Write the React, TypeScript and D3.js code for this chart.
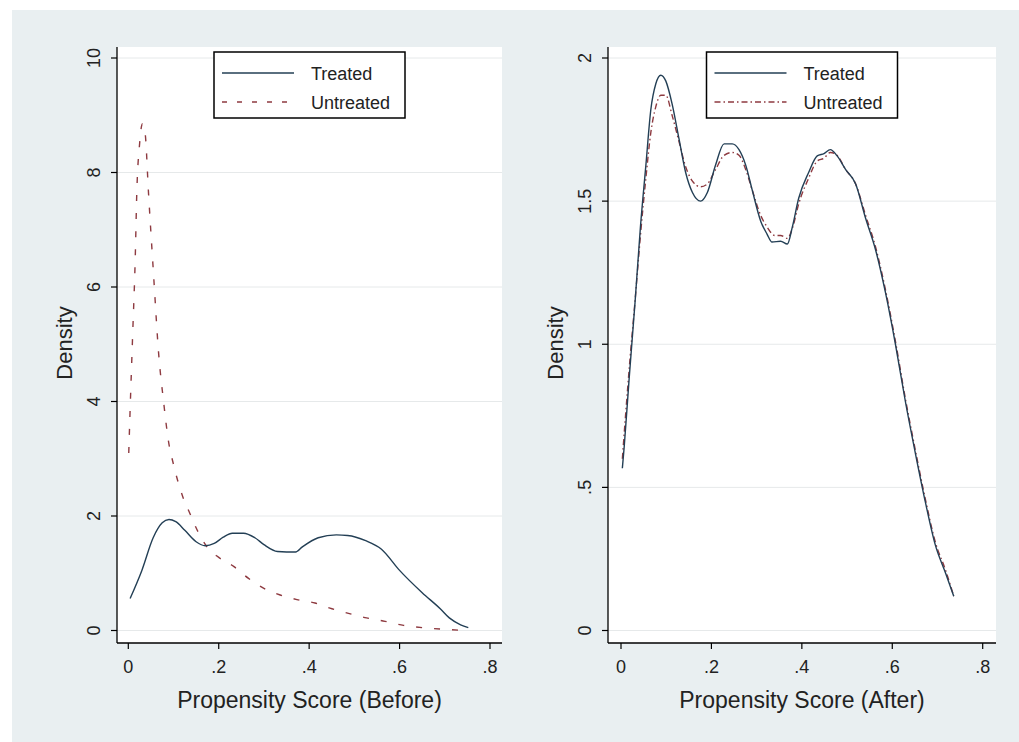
import React from "react";
import * as d3 from "d3";

// ---------- data ----------
const xTickValues = [0, 0.2, 0.4, 0.6, 0.8];
const xTickLabels = ["0", ".2", ".4", ".6", ".8"];

const beforeYTickValues = [0, 2, 4, 6, 8, 10];
const beforeYTickLabels = ["0", "2", "4", "6", "8", "10"];
const afterYTickValues = [0, 0.5, 1, 1.5, 2];
const afterYTickLabels = ["0", ".5", "1", "1.5", "2"];

const seriesNames = ["Treated", "Untreated"];

// Before matching
const beforeTreatedX = [0.004, 0.03, 0.055, 0.075, 0.09, 0.105, 0.125, 0.15, 0.17, 0.19, 0.21, 0.23, 0.255, 0.28, 0.30, 0.33, 0.37, 0.385, 0.42, 0.46, 0.485, 0.525, 0.56, 0.60, 0.65, 0.69, 0.71, 0.735, 0.752];
const beforeTreatedY = [0.56, 1.05, 1.62, 1.88, 1.94, 1.90, 1.75, 1.55, 1.48, 1.52, 1.63, 1.70, 1.70, 1.62, 1.50, 1.38, 1.37, 1.46, 1.62, 1.67, 1.66, 1.57, 1.42, 1.05, 0.66, 0.38, 0.22, 0.10, 0.05];

const beforeUntreatedX = [0.001, 0.004, 0.010, 0.015, 0.019, 0.025, 0.031, 0.037, 0.045, 0.056, 0.067, 0.078, 0.089, 0.100, 0.119, 0.137, 0.152, 0.174, 0.196, 0.233, 0.266, 0.299, 0.336, 0.373, 0.413, 0.446, 0.487, 0.527, 0.568, 0.609, 0.65, 0.69, 0.735];
const beforeUntreatedY = [3.1, 3.85, 5.25, 6.4, 7.7, 8.5, 8.85, 8.7, 7.6, 6.2, 4.85, 4.0, 3.3, 2.9, 2.37, 2.03, 1.76, 1.46, 1.30, 1.12, 0.91, 0.74, 0.62, 0.54, 0.48, 0.39, 0.30, 0.22, 0.16, 0.09, 0.05, 0.025, 0.005];

// After matching
const afterTreatedX = [0.003, 0.007, 0.018, 0.031, 0.043, 0.055, 0.066, 0.077, 0.088, 0.099, 0.113, 0.128, 0.143, 0.158, 0.176, 0.191, 0.209, 0.228, 0.246, 0.261, 0.276, 0.29, 0.309, 0.323, 0.334, 0.353, 0.368, 0.379, 0.393, 0.415, 0.434, 0.449, 0.463, 0.478, 0.497, 0.519, 0.541, 0.563, 0.585, 0.607, 0.629, 0.651, 0.673, 0.695, 0.718, 0.736];
const afterTreatedY = [0.567, 0.64, 0.88, 1.145, 1.41, 1.625, 1.82, 1.91, 1.94, 1.92, 1.84, 1.72, 1.60, 1.53, 1.50, 1.53, 1.625, 1.70, 1.70, 1.68, 1.625, 1.54, 1.43, 1.385, 1.357, 1.36, 1.35, 1.41, 1.51, 1.60, 1.658, 1.666, 1.68, 1.658, 1.61, 1.56, 1.44, 1.33, 1.18, 1.00, 0.80, 0.62, 0.45, 0.30, 0.20, 0.12];

const afterUntreatedX = [0.003, 0.01, 0.02, 0.031, 0.043, 0.055, 0.066, 0.077, 0.088, 0.099, 0.113, 0.128, 0.143, 0.158, 0.176, 0.191, 0.209, 0.228, 0.246, 0.261, 0.276, 0.29, 0.309, 0.323, 0.34, 0.353, 0.368, 0.38, 0.393, 0.415, 0.434, 0.449, 0.463, 0.478, 0.497, 0.519, 0.541, 0.563, 0.585, 0.607, 0.629, 0.651, 0.673, 0.695, 0.718, 0.736];
const afterUntreatedY = [0.60, 0.75, 0.95, 1.15, 1.38, 1.58, 1.74, 1.83, 1.87, 1.87, 1.80, 1.71, 1.62, 1.57, 1.55, 1.56, 1.61, 1.66, 1.67, 1.66, 1.61, 1.54, 1.45, 1.41, 1.38, 1.38, 1.37, 1.41, 1.49, 1.58, 1.64, 1.65, 1.67, 1.66, 1.61, 1.56, 1.45, 1.34, 1.19, 1.01, 0.81, 0.63, 0.46, 0.31, 0.21, 0.12];

// ---------- styling ----------
const FONT = "'Liberation Sans', Arial, Helvetica, sans-serif";
const BG = "#e9eff1";
const TREATED_COLOR = "#233f55";
const UNTREATED_COLOR = "#8e3a40";

type PanelProps = {
  plotLeft: number;
  plotRight: number;
  xZero: number;
  yMax: number;
  yTickValues: number[];
  yTickLabels: string[];
  treatedX: number[];
  treatedY: number[];
  untreatedX: number[];
  untreatedY: number[];
  untreatedDash: string;
  legendDash: string;
  xTitle: string;
};

const PLOT_TOP = 47;
const PLOT_BOTTOM = 643;
const Y_ZERO = 630.5;
const Y_TOPTICK = 58;

function Panel(p: PanelProps) {
  const x = d3.scaleLinear().domain([0, 0.8]).range([p.xZero, p.xZero + 361.7]);
  const y = d3.scaleLinear().domain([0, p.yMax]).range([Y_ZERO, Y_TOPTICK]);
  const line = d3
    .line<[number, number]>()
    .x((d) => x(d[0]))
    .y((d) => y(d[1]))
    .curve(d3.curveMonotoneX);
  const tPts = p.treatedX.map((v, i) => [v, p.treatedY[i]] as [number, number]);
  const uPts = p.untreatedX.map((v, i) => [v, p.untreatedY[i]] as [number, number]);
  const cx = (p.plotLeft + p.plotRight) / 2;
  const legL = cx - 95.5;
  const legR = cx + 95.5;
  return (
    <g>
      <rect x={p.plotLeft} y={PLOT_TOP} width={p.plotRight - p.plotLeft} height={PLOT_BOTTOM - PLOT_TOP} fill="#ffffff" />
      {p.yTickValues.map((v) => (
        <line key={"g" + v} x1={p.plotLeft} x2={p.plotRight} y1={y(v)} y2={y(v)} stroke="#e6e9ea" strokeWidth={1} />
      ))}
      {/* curves */}
      <path d={line(uPts) || ""} fill="none" stroke={UNTREATED_COLOR} strokeWidth={1.4} strokeDasharray={p.untreatedDash} />
      <path d={line(tPts) || ""} fill="none" stroke={TREATED_COLOR} strokeWidth={1.4} />
      {/* axes */}
      <line x1={p.plotLeft} x2={p.plotLeft} y1={PLOT_TOP} y2={PLOT_BOTTOM} stroke="#000" strokeWidth={1.3} />
      <line x1={p.plotLeft} x2={p.plotRight} y1={PLOT_BOTTOM} y2={PLOT_BOTTOM} stroke="#000" strokeWidth={1.3} />
      {p.yTickValues.map((v, i) => (
        <g key={"yt" + v}>
          <line x1={p.plotLeft - 6} x2={p.plotLeft} y1={y(v)} y2={y(v)} stroke="#000" strokeWidth={1.2} />
          <text
            transform={`translate(${p.plotLeft - 17},${y(v)}) rotate(-90)`}
            textAnchor="middle"
            fontFamily={FONT}
            fontSize={18}
            fill="#222"
          >
            {p.yTickLabels[i]}
          </text>
        </g>
      ))}
      {xTickValues.map((v, i) => (
        <g key={"xt" + v}>
          <line x1={x(v)} x2={x(v)} y1={PLOT_BOTTOM} y2={PLOT_BOTTOM + 6} stroke="#000" strokeWidth={1.2} />
          <text x={x(v)} y={673} textAnchor="middle" fontFamily={FONT} fontSize={18} fill="#222">
            {xTickLabels[i]}
          </text>
        </g>
      ))}
      <text
        transform={`translate(${p.plotLeft - 45},343) rotate(-90)`}
        textAnchor="middle"
        fontFamily={FONT}
        fontSize={22}
        fill="#222"
      >
        Density
      </text>
      <text x={cx} y={708} textAnchor="middle" fontFamily={FONT} fontSize={23} fill="#222">
        {p.xTitle}
      </text>
      {/* legend */}
      <rect x={legL} y={52} width={legR - legL} height={66} fill="#ffffff" stroke="#000" strokeWidth={1.5} />
      <line x1={legL + 8} x2={legL + 80} y1={73} y2={73} stroke={TREATED_COLOR} strokeWidth={1.4} />
      <line x1={legL + 8} x2={legL + 80} y1={102} y2={102} stroke={UNTREATED_COLOR} strokeWidth={1.4} strokeDasharray={p.legendDash} />
      <text x={legL + 97} y={79.5} fontFamily={FONT} fontSize={18} fill="#222">
        {seriesNames[0]}
      </text>
      <text x={legL + 97} y={108.5} fontFamily={FONT} fontSize={18} fill="#222">
        {seriesNames[1]}
      </text>
    </g>
  );
}

export default function App() {
  return (
    <svg
      width={1019}
      height={742}
      style={{ position: "absolute", left: 0, top: 0, display: "block" }}
    >
      <rect x={0} y={0} width={1019} height={742} fill="#ffffff" />
      <rect x={12} y={10} width={1007} height={732} fill={BG} />
      <Panel
        plotLeft={117}
        plotRight={502}
        xZero={128.3}
        yMax={10}
        yTickValues={beforeYTickValues}
        yTickLabels={beforeYTickLabels}
        treatedX={beforeTreatedX}
        treatedY={beforeTreatedY}
        untreatedX={beforeUntreatedX}
        untreatedY={beforeUntreatedY}
        untreatedDash="6,12"
        legendDash="5,10"
        xTitle="Propensity Score (Before)"
      />
      <Panel
        plotLeft={608}
        plotRight={996}
        xZero={621}
        yMax={2}
        yTickValues={afterYTickValues}
        yTickLabels={afterYTickLabels}
        treatedX={afterTreatedX}
        treatedY={afterTreatedY}
        untreatedX={afterUntreatedX}
        untreatedY={afterUntreatedY}
        untreatedDash="6,3,1.5,3"
        legendDash="6,3,1.5,3"
        xTitle="Propensity Score (After)"
      />
    </svg>
  );
}
